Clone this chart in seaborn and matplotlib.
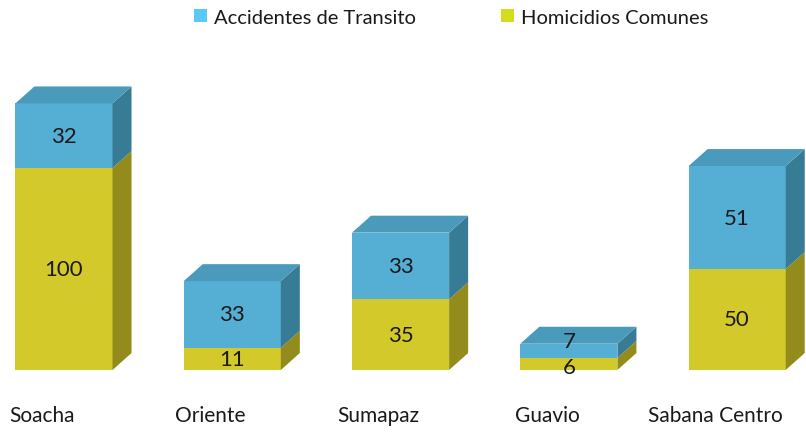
import matplotlib
matplotlib.use("Agg")
import matplotlib.pyplot as plt
import seaborn as sns
import pandas as pd
from matplotlib.patches import Polygon, Patch

# Data
regiones = ["Soacha", "Oriente", "Sumapaz", "Guavio", "Sabana Centro"]
accidentes = [32, 33, 33, 7, 51]
homicidios = [100, 11, 35, 6, 50]
series = ["Accidentes de Transito", "Homicidios Comunes"]

# Colours: front, side, top
blue_front, blue_side, blue_top = "#55AFD5", "#387B95", "#4A9BBB"
yel_front, yel_side = "#D3C92A", "#938C1C"
legend_cols = ["#5BC8F5", "#D4DC1E"]

sns.set_theme(style="white")
plt.rcParams["font.family"] = ["Lato", "DejaVu Sans"]

df = pd.DataFrame({"region": regiones, "acc": accidentes, "hom": homicidios})
df["total"] = df["acc"] + df["hom"]

fig = plt.figure(figsize=(8.06, 4.35), dpi=100)
ax = fig.add_axes([0, 0, 1, 1])

bar_w = 0.577
sns.barplot(data=df, x="region", y="total", color=blue_front, saturation=1,
            width=bar_w, ax=ax, order=regiones, linewidth=0)
n_tot = len(ax.patches)
sns.barplot(data=df, x="region", y="hom", color=yel_front, saturation=1,
            width=bar_w, ax=ax, order=regiones, linewidth=0)

tot_patches = ax.patches[:n_tot]
hom_patches = ax.patches[n_tot:]

# depth of the extruded faces, in data units
dx, dy = 0.113, 8.4
label_kw = dict(ha="center", va="center", fontsize=16, color="#1a1a1a")

for pt, ph, a, h in zip(tot_patches, hom_patches, accidentes, homicidios):
    xl = pt.get_x()
    xr = xl + pt.get_width()
    tot = pt.get_height()
    hh = ph.get_height()
    # side faces
    ax.add_patch(Polygon([(xr, 0), (xr, hh), (xr + dx, hh + dy), (xr + dx, dy)],
                         closed=True, facecolor=yel_side, edgecolor="none"))
    ax.add_patch(Polygon([(xr, hh), (xr, tot), (xr + dx, tot + dy), (xr + dx, hh + dy)],
                         closed=True, facecolor=blue_side, edgecolor="none"))
    # top face
    ax.add_patch(Polygon([(xl, tot), (xr, tot), (xr + dx, tot + dy), (xl + dx, tot + dy)],
                         closed=True, facecolor=blue_top, edgecolor="none"))
    xc = (xl + xr) / 2
    # thin segments: push the two labels apart so they do not collide
    thin = a < 10 and h < 10
    ya = hh + a / 2 + (5 if thin else 0)
    yh = hh / 2 - (1.5 if thin else 0)
    ax.text(xc, ya, str(a), **label_kw)
    ax.text(xc, yh, str(h), **label_kw)

# category labels under the bars
for i, name in enumerate(regiones):
    ax.text(i - 0.13, -22.5, name, ha="center", va="center", fontsize=15, color="#1a1a1a")

ax.set_xlim(-0.38, 4.409)
ax.set_ylim(-31.7, 183.7)
ax.axis("off")

handles = [Patch(facecolor=c, edgecolor="none") for c in legend_cols]
leg = fig.legend(handles, series, loc="center", bbox_to_anchor=(0.56, 1 - 18 / 435),
                 ncol=2, frameon=False, fontsize=14.5, handlelength=0.65, handleheight=0.65,
                 handletextpad=0.35, columnspacing=4.2)
for t in leg.get_texts():
    t.set_color("#1a1a1a")

fig.savefig("out.png", dpi=100)
